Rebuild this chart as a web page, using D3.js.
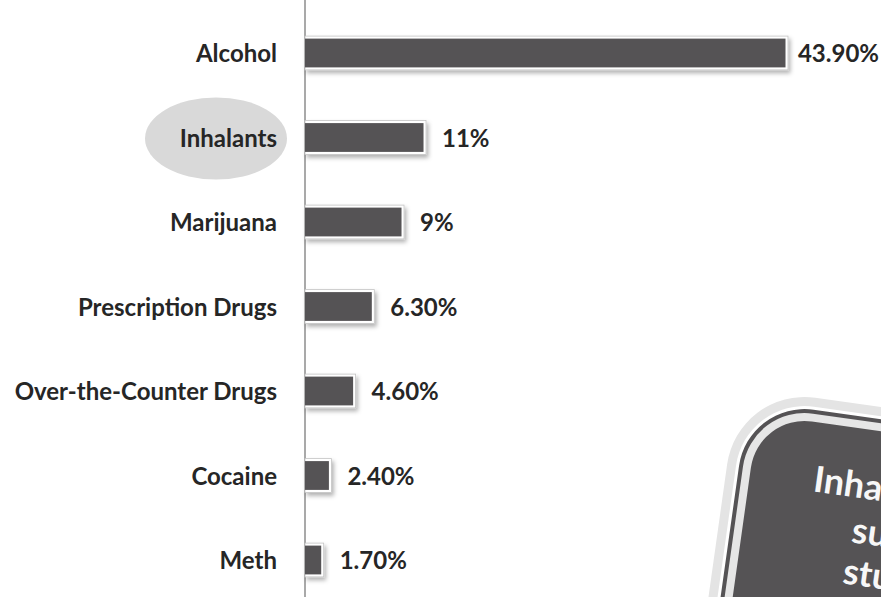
<!DOCTYPE html>
<html>
<head>
<meta charset="utf-8">
<script src="https://cdn.jsdelivr.net/npm/d3@7"></script>
<style>
  html, body { margin: 0; padding: 0; background: #ffffff; }
  svg { display: block; }
  text { font-family: Lato, "Open Sans", sans-serif; font-weight: bold; }
</style>
</head>
<body>
<svg id="chart" width="881" height="597"></svg>
<script>
// Substances and share of use (%)
const categories = ["Alcohol", "Inhalants", "Marijuana", "Prescription Drugs",
                    "Over-the-Counter Drugs", "Cocaine", "Meth"];
const values = [43.9, 11, 9, 6.3, 4.6, 2.4, 1.7];
const valueLabels = ["43.90%", "11%", "9%", "6.30%", "4.60%", "2.40%", "1.70%"];
const highlighted = "Inhalants";
const calloutLines = ["Inhal", "sub", "stu"];

const W = 881, H = 597;
const svg = d3.select("#chart");
const defs = svg.append("defs");

const shadow = defs.append("filter").attr("id", "shadow")
  .attr("x", "-20%").attr("y", "-40%").attr("width", "150%").attr("height", "200%");
shadow.append("feDropShadow").attr("dx", 2).attr("dy", 3).attr("stdDeviation", 2)
  .attr("flood-color", "#000").attr("flood-opacity", 0.3);

const axisX = 305;
const x = d3.scaleLinear().domain([0, 43.9]).range([axisX, 788]);
const y = d3.scaleBand().domain(categories).range([10.75, 602.25])
  .paddingInner(0.6).paddingOuter(0.3);

const data = categories.map((c, i) => ({ cat: c, value: values[i], label: valueLabels[i] }));

// Highlight ellipse behind the emphasised category
svg.append("ellipse")
  .attr("cx", 216).attr("cy", y(highlighted) + y.bandwidth() / 2 + 1)
  .attr("rx", 71).attr("ry", 41)
  .attr("fill", "#d9d9d9");

// Category axis
const yAxis = d3.axisLeft(y).tickSize(0).tickPadding(28);
const gAxis = svg.append("g").attr("transform", `translate(${axisX},0)`).call(yAxis);
gAxis.select(".domain").remove();
gAxis.selectAll(".tick text")
  .attr("fill", "#262626")
  .style("font-size", "24px")
  .style("font-family", "Lato, sans-serif")
  .attr("dy", "0.38em");
svg.append("line")
  .attr("x1", axisX).attr("x2", axisX).attr("y1", 0).attr("y2", H)
  .attr("stroke", "#8c8c8c").attr("stroke-width", 1.5);

// Bars: white framed dark bars with a soft shadow
const bars = svg.append("g").selectAll("g").data(data).join("g");
bars.append("rect")
  .attr("x", x(0))
  .attr("y", d => y(d.cat))
  .attr("width", d => x(d.value) - x(0))
  .attr("height", y.bandwidth())
  .attr("fill", "#ffffff")
  .attr("stroke", "#c4c4c4").attr("stroke-width", 0.8)
  .attr("filter", "url(#shadow)");
bars.append("rect")
  .attr("x", x(0))
  .attr("y", d => y(d.cat) + 2.5)
  .attr("width", d => Math.max(0, x(d.value) - x(0) - 2.5))
  .attr("height", y.bandwidth() - 5)
  .attr("fill", "#555355");

// Value labels
bars.append("text")
  .attr("y", d => y(d.cat) + y.bandwidth() / 2)
  .attr("dy", "0.38em")
  .attr("fill", "#262626")
  .style("font-size", "24px")
  .text(d => d.label)
  .attr("x", function (d) {
    const w = this.getComputedTextLength();
    return Math.min(x(d.value) + 16, W - 2 - w);
  });

// Callout panel in the lower right
const callout = svg.append("g").attr("transform", "translate(738,387) rotate(8)");
const layers = [
  { inset: 0, fill: "#e4e4e4" },
  { inset: 9, fill: "#ffffff" },
  { inset: 12, fill: "#555355" },
  { inset: 16, fill: "#e6e6e6" },
  { inset: 24, fill: "#555355" }
];
const cw = 320, ch = 420, cr = 78;
callout.selectAll("rect").data(layers).join("rect")
  .attr("x", d => d.inset).attr("y", d => d.inset)
  .attr("width", d => cw - 2 * d.inset).attr("height", d => ch - 2 * d.inset)
  .attr("rx", d => Math.max(0, cr - d.inset)).attr("ry", d => Math.max(0, cr - d.inset))
  .attr("fill", d => d.fill);
const lineX = [88, 133, 130];
const lineY = [93, 138, 180];
callout.selectAll("text.callout").data(calloutLines).join("text")
  .attr("class", "callout")
  .attr("x", (d, i) => lineX[i]).attr("y", (d, i) => lineY[i])
  .attr("fill", "#f7f7f7")
  .style("font-size", "36px")
  .text(d => d);
</script>
</body>
</html>
